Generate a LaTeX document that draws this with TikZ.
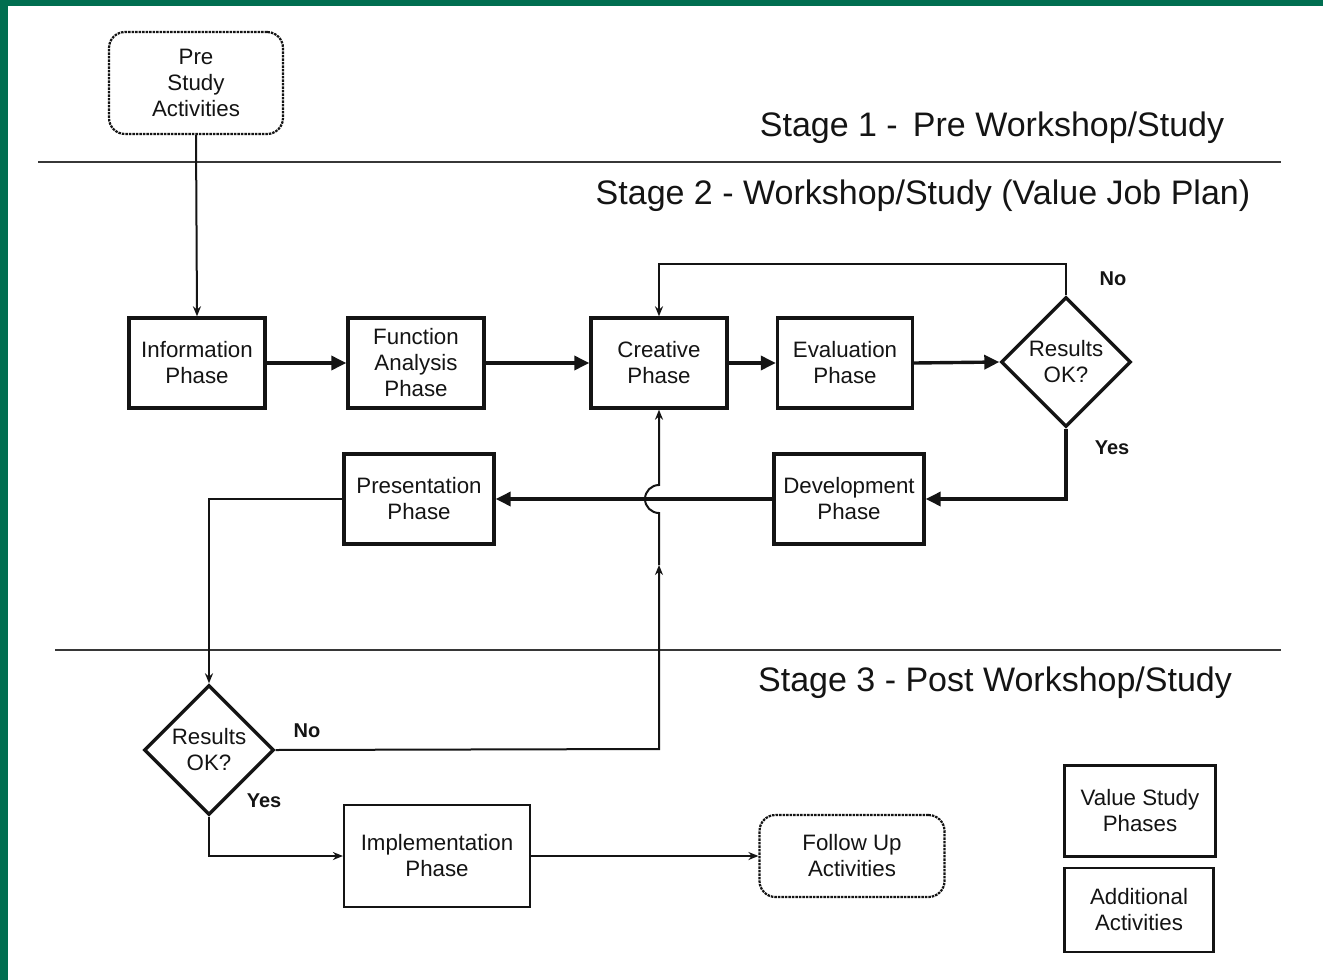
\documentclass[tikz,border=0pt]{standalone}
\usepackage{fontspec}
\setmainfont{Liberation Sans}
\usetikzlibrary{shapes.geometric,arrows.meta}
\definecolor{framegreen}{RGB}{0,110,80}
\definecolor{ink}{RGB}{20,20,20}
\begin{document}
\begin{tikzpicture}[x=1pt,y=-1pt,
  boxtext/.style={font=\fontsize{22.3}{26}\selectfont, text=ink, align=center},
  phase/.style={boxtext, draw=ink, line width=3.4pt, rectangle, inner sep=0pt},
  thinbox/.style={boxtext, draw=ink, line width=2.2pt, rectangle, inner sep=0pt},
  activity/.style={boxtext, draw=ink, line width=2.2pt, dash pattern=on 2.5pt off 1pt, rounded corners=16pt, rectangle, inner sep=0pt},
  decision/.style={boxtext, draw=ink, line width=3.4pt, diamond, aspect=1, inner sep=0pt, minimum width=130pt, minimum height=130pt},
  stagetext/.style={font=\fontsize{34}{40}\selectfont, text=ink},
  answer/.style={font=\bfseries\fontsize{20}{24}\selectfont, text=ink},
  bigflow/.style={draw=ink, line width=3.4pt, -{Triangle[length=15pt,width=14pt]}},
  smallflow/.style={draw=ink, line width=2pt, -{Stealth[length=10pt,width=8pt]}},
  divider/.style={draw=ink!85, line width=2pt}
]
\useasboundingbox (0,0) rectangle (1323,980);
\fill[white] (0,0) rectangle (1323,980);
% frame
\fill[framegreen] (0,0) rectangle (1323,6);
\fill[framegreen] (0,0) rectangle (8,980);

% dividers
\coordinate (d1a) at (38,162); \coordinate (d1b) at (1281,162);
\coordinate (d2a) at (55,650); \coordinate (d2b) at (1281,650);
\draw[divider] (d1a) -- (d1b);
\draw[divider] (d2a) -- (d2b);

% stage titles
\node[stagetext] (s1) at (992,128) {Stage 1 -\, Pre Workshop/Study};
\node[stagetext] (s2) at (923,196) {Stage 2 - Workshop/Study (Value Job Plan)};
\node[stagetext] (s3) at (995,683) {Stage 3 - Post Workshop/Study};

% nodes
\node[activity, minimum width=174pt, minimum height=102pt] (pre) at (196,83) {Pre\\Study\\Activities};
\node[phase, minimum width=136pt, minimum height=90pt] (info) at (197,363) {Information\\Phase};
\node[phase, minimum width=136pt, minimum height=90pt] (func) at (416,363) {Function\\Analysis\\Phase};
\node[phase, minimum width=136pt, minimum height=90pt] (crea) at (659,363) {Creative\\Phase};
\node[phase, minimum width=135pt, minimum height=90pt] (eval) at (845,363) {Evaluation\\Phase};
\node[decision] (res1) at (1066,362) {Results\\OK?};
\node[phase, minimum width=150pt, minimum height=90pt] (dev) at (849,499) {Development\\Phase};
\node[phase, minimum width=150pt, minimum height=90pt] (pres) at (419,499) {Presentation\\Phase};
\node[decision] (res2) at (209,750) {Results\\OK?};
\node[thinbox, minimum width=186pt, minimum height=102pt] (impl) at (437,856) {Implementation\\Phase};
\node[activity, minimum width=185pt, minimum height=82pt] (follow) at (852,856) {Follow Up\\Activities};
\node[phase, minimum width=151pt, minimum height=91pt] (legA) at (1140,811) {Value Study\\Phases};
\node[thinbox, minimum width=149pt, minimum height=84pt] (legB) at (1139,910) {Additional\\Activities};

% answer labels
\node[answer] (no1) at (1113,279) {No};
\node[answer] (yes1) at (1112,448) {Yes};
\node[answer] (no2) at (307,731) {No};
\node[answer] (yes2) at (264,801) {Yes};

% connectors
\draw[smallflow] (pre.south) -- (info.north);
\draw[bigflow] (info.east) -- (func.west);
\draw[bigflow] (func.east) -- (crea.west);
\draw[bigflow] (crea.east) -- (eval.west);
\draw[bigflow] (eval.east) -- (res1.west);
\coordinate (loopR) at (1066,264);
\coordinate (loopL) at (659,264);
\draw[smallflow] (res1.north) -- (loopR) -- (loopL) -- (crea.north);
\coordinate (yesR) at (1066,499);
\draw[bigflow] (res1.south) -- (yesR) -- (dev.east);
\draw[bigflow] (dev.west) -- (pres.east);
\coordinate (presL) at (209,499);
\draw[smallflow] (pres.west) -- (presL) -- (res2.north);
% No loop from second decision back to creative phase, hopping over the flow line
\coordinate (noR) at (659,749);
\coordinate (midA) at (659,565);
\coordinate (hopS) at (659,513);
\draw[smallflow] (res2.east) -- (noR) -- (midA);
\draw[smallflow] (midA) -- (hopS) arc[start angle=90, end angle=270, radius=14] -- (crea.south);
\coordinate (yesB) at (209,856);
\draw[smallflow] (res2.south) -- (yesB) -- (impl.west);
\draw[smallflow] (impl.east) -- (follow.west);
\end{tikzpicture}
\end{document}
